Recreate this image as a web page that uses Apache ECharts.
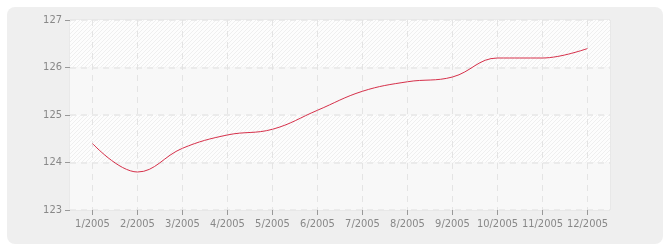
<!DOCTYPE html>
<html>
<head>
<meta charset="utf-8">
<script src="https://cdn.jsdelivr.net/npm/echarts@6/dist/echarts.min.js"></script>
<style>
html,body{margin:0;padding:0;background:#fff;}
#c{width:670px;height:250px;}
</style>
</head>
<body>
<div id="c"></div>
<script>
const categories = ['1/2005','2/2005','3/2005','4/2005','5/2005','6/2005','7/2005','8/2005','9/2005','10/2005','11/2005','12/2005'];
const values = [124.4, 123.8, 124.3, 124.58, 124.7, 125.1, 125.5, 125.7, 125.8, 126.2, 126.2, 126.4];
const yTicks = [123, 124, 125, 126, 127];

function hatch(bg, line) {
  const cv = document.createElement('canvas');
  cv.width = 4; cv.height = 4;
  const g = cv.getContext('2d');
  g.fillStyle = bg; g.fillRect(0, 0, 4, 4);
  g.strokeStyle = line; g.lineWidth = 1;
  g.beginPath();
  g.moveTo(-1, 5); g.lineTo(5, -1);
  g.moveTo(-1, 1); g.lineTo(1, -1);
  g.moveTo(3, 5); g.lineTo(5, 3);
  g.stroke();
  return { image: cv, repeat: 'repeat' };
}

const chart = echarts.init(document.getElementById('c'), null, { renderer: 'canvas' });
const font = 'DejaVu Sans Condensed';
chart.setOption({
  animation: false,
  backgroundColor: '#ffffff',
  graphic: [{
    type: 'rect', z: -100, silent: true,
    shape: { x: 7, y: 7, width: 656, height: 237, r: 8 },
    style: { fill: '#efefef' }
  }],
  grid: {
    left: 70, top: 20, right: 60, bottom: 40,
    show: true, backgroundColor: 'transparent', borderColor: '#e2e2e2', borderWidth: 1
  },
  xAxis: {
    type: 'category',
    data: categories,
    boundaryGap: true,
    axisLine: { show: false },
    axisTick: { show: true, interval: 0, alignWithLabel: true, length: 5, lineStyle: { color: '#999' } },
    axisLabel: { interval: 0, color: '#888', fontFamily: font, fontSize: 11, margin: 9 },
    splitLine: { show: true, interval: 0, alignWithLabel: true, lineStyle: { color: '#e4e4e4', type: [6, 5], width: 1 } }
  },
  yAxis: {
    type: 'value',
    min: yTicks[0], max: yTicks[yTicks.length - 1], interval: 1,
    axisLine: { show: false },
    axisTick: { show: true, length: 5, lineStyle: { color: '#999' } },
    axisLabel: { color: '#888', fontFamily: font, fontSize: 11, margin: 8 },
    splitLine: { show: true, lineStyle: { color: '#e6e6e6', type: [6, 5], width: 1.5 } },
    splitArea: { show: true, areaStyle: { color: [
      '#f8f8f8',
      hatch('#fdfdfd', '#efefef'),
      '#f8f8f8',
      hatch('#fdfdfd', '#efefef')
    ] } }
  },
  series: [{
    type: 'line',
    data: values,
    smooth: 0.4,
    showSymbol: false,
    symbol: 'none',
    lineStyle: { color: '#d6304a', width: 1 },
    z: 5
  }]
});
</script>
</body>
</html>
